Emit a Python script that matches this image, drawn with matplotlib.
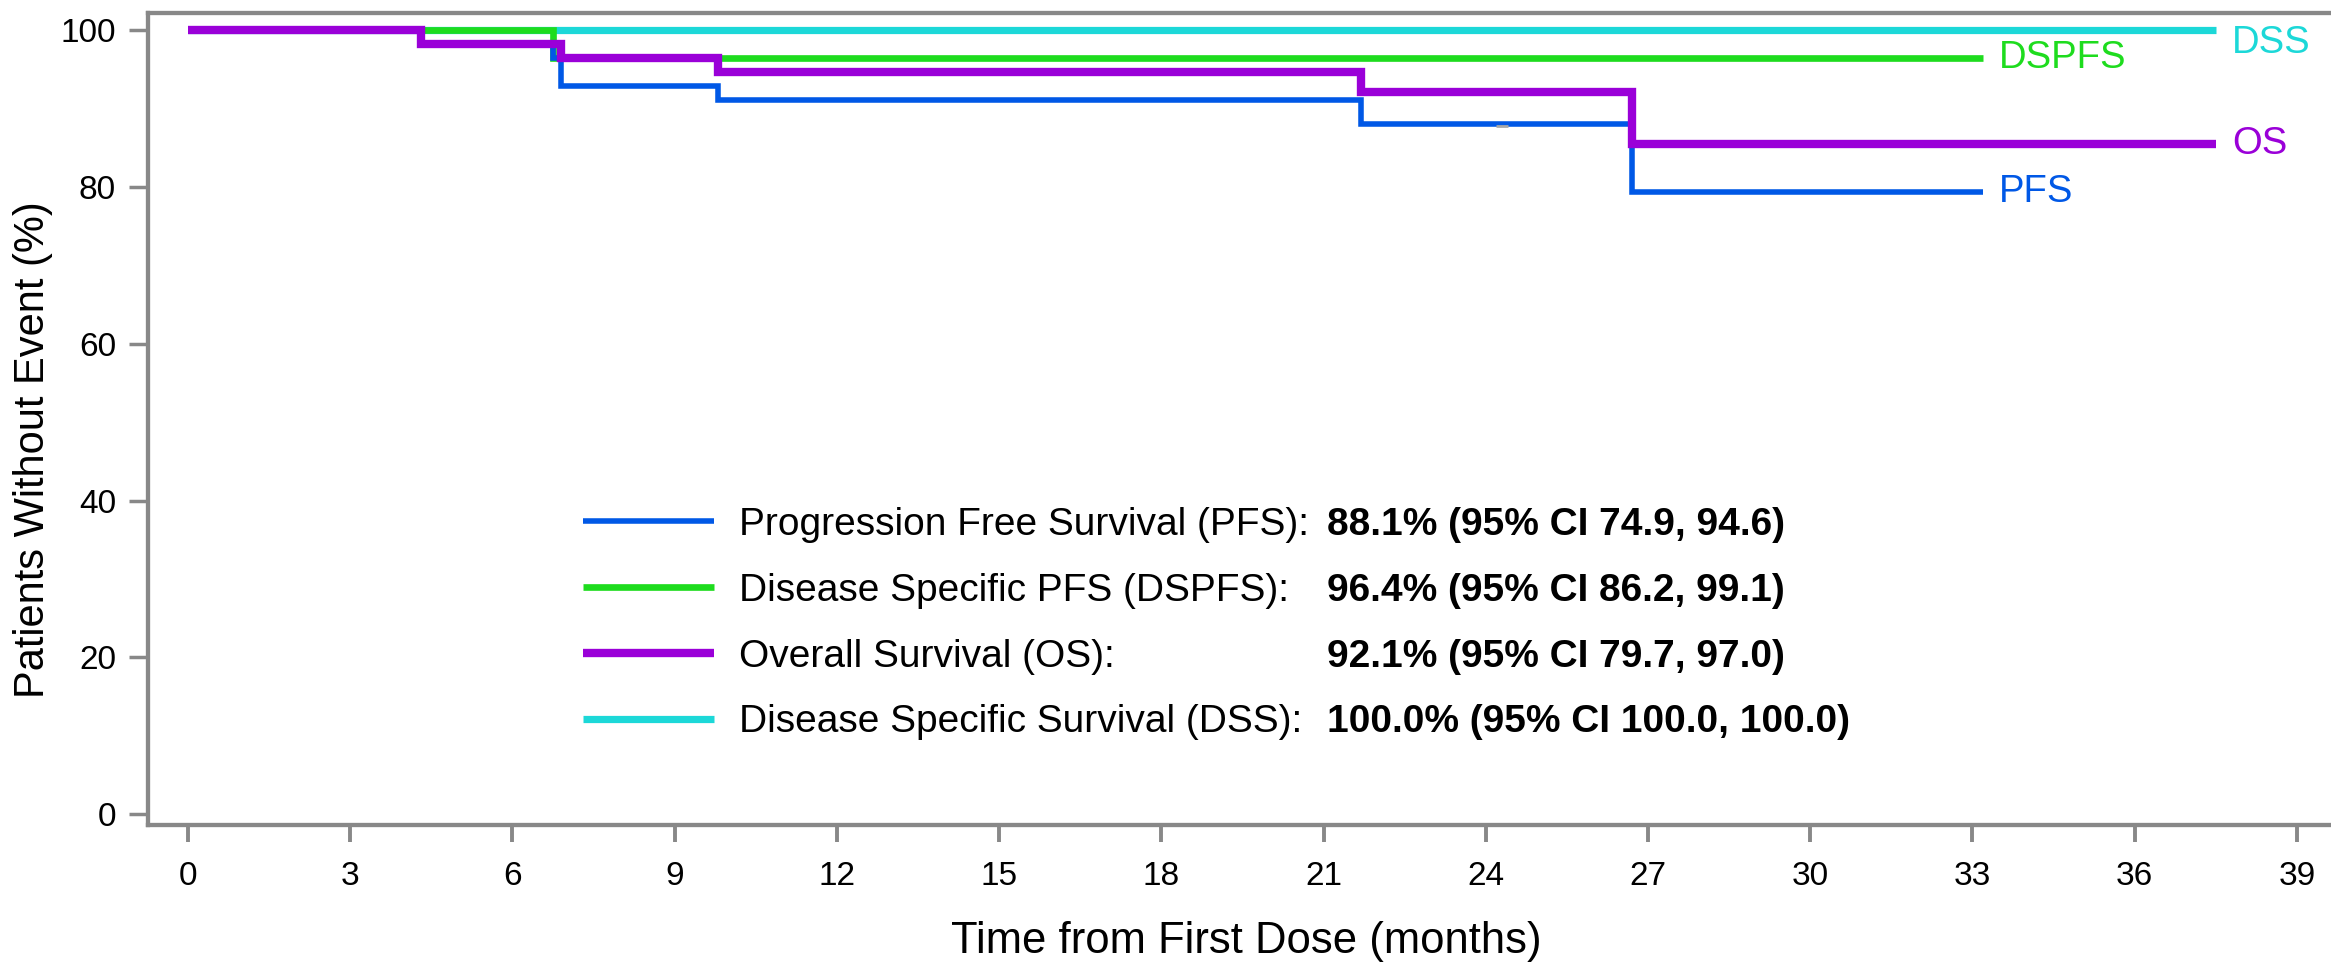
import matplotlib
matplotlib.use("Agg")
import matplotlib.pyplot as plt
from matplotlib.lines import Line2D

plt.rcParams['font.family'] = ['Liberation Sans', 'DejaVu Sans']

# ---- data ----
pfs_t = [0, 4.3, 6.75, 6.9, 9.8, 21.7, 26.7, 33.2]
pfs_v = [100, 98.2, 96.4, 92.9, 91.1, 88.1, 79.3, 79.3]
dspfs_t = [0, 6.75, 33.2]
dspfs_v = [100, 96.4, 96.4]
os_t = [0, 4.3, 6.9, 9.8, 21.7, 26.7, 37.5]
os_v = [100, 98.2, 96.5, 94.7, 92.1, 85.5, 85.5]
dss_t = [0, 37.5]
dss_v = [100, 100]
pfs_censor_t = [24.3]
pfs_censor_v = [87.8]

series_names = ["Progression Free Survival (PFS):", "Disease Specific PFS (DSPFS):",
                "Overall Survival (OS):", "Disease Specific Survival (DSS):"]
short_names = ["PFS", "DSPFS", "OS", "DSS"]
estimates = ["88.1% (95% CI 74.9, 94.6)", "96.4% (95% CI 86.2, 99.1)",
             "92.1% (95% CI 79.7, 97.0)", "100.0% (95% CI 100.0, 100.0)"]
x_ticks = list(range(0, 40, 3))
y_ticks = [0, 20, 40, 60, 80, 100]

colors = ['#0058e6', '#1edc1e', '#9a00d8', '#1cd8d8']
widths = [4.0, 4.8, 6.0, 5.2]

fig = plt.figure(figsize=(23.31, 9.63), dpi=100)
ax = fig.add_axes([148/2331, 138/963, 2183/2331, 812/963])

data = [(pfs_t, pfs_v), (dspfs_t, dspfs_v), (os_t, os_v), (dss_t, dss_v)]
order = [3, 1, 0, 2]  # drawing order (DSS below, OS on top)
lines = [None]*4
for i in order:
    t, v = data[i]
    ln, = ax.step(t, v, where='post', color=colors[i], lw=widths[i],
                  solid_joinstyle='miter', solid_capstyle='butt',
                  zorder=3 + order.index(i))
    lines[i] = ln

# small censor tick visible on the PFS curve
ax.plot(pfs_censor_t, pfs_censor_v, ls='none', marker='_', color='#a8a8a8',
        markersize=9, markeredgewidth=2.0, zorder=10)

# curve end labels
label_dy = [0, 0, 0, -9]
for i in range(4):
    t, v = data[i]
    ax.annotate(short_names[i], xy=(t[-1], v[-1]), xytext=(11.5, label_dy[i]),
                textcoords='offset points', color=colors[i], fontsize=27.5,
                ha='left', va='center', annotation_clip=False)

ax.set_xlim(-0.74, 39.63)
ax.set_ylim(-1.4, 102.2)
ax.set_xticks(x_ticks)
ax.set_yticks(y_ticks)

ax.spines['right'].set_visible(False)
for s in ['left', 'top', 'bottom']:
    ax.spines[s].set_color('#888888')
    ax.spines[s].set_linewidth(3.1)

ax.tick_params(axis='x', colors='#888888', length=12, width=2.8, pad=14,
               labelsize=24, labelcolor='black')
ax.tick_params(axis='y', colors='#888888', length=14, width=2.5, pad=9,
               labelsize=24, labelcolor='black')

ax.set_xlabel("Time from First Dose (months)", fontsize=31.4, va='center')
ax.xaxis.set_label_coords(0.503, -0.143)
ax.set_ylabel("Patients Without Event (%)", fontsize=30, va='center')
ax.yaxis.set_label_coords(-0.0527, 0.462)

# legend: lines + names, and a second column with the bold estimates
leg_fs = 28
leg1 = ax.legend(lines, series_names, loc='center left',
                 bbox_to_anchor=(0.1993, 0.2479), frameon=False, fontsize=leg_fs,
                 handlelength=3.37, handletextpad=0.64, labelspacing=0.765,
                 borderpad=0, borderaxespad=0)
ax.add_artist(leg1)
blank = [Line2D([], [], lw=0) for _ in range(4)]
leg2 = ax.legend(blank, estimates, loc='center left',
                 bbox_to_anchor=(0.540, 0.2479), frameon=False,
                 prop={'size': leg_fs, 'weight': 'bold'},
                 handlelength=0, handletextpad=0, labelspacing=0.765,
                 borderpad=0, borderaxespad=0)

fig.savefig("out.png", dpi=100)
